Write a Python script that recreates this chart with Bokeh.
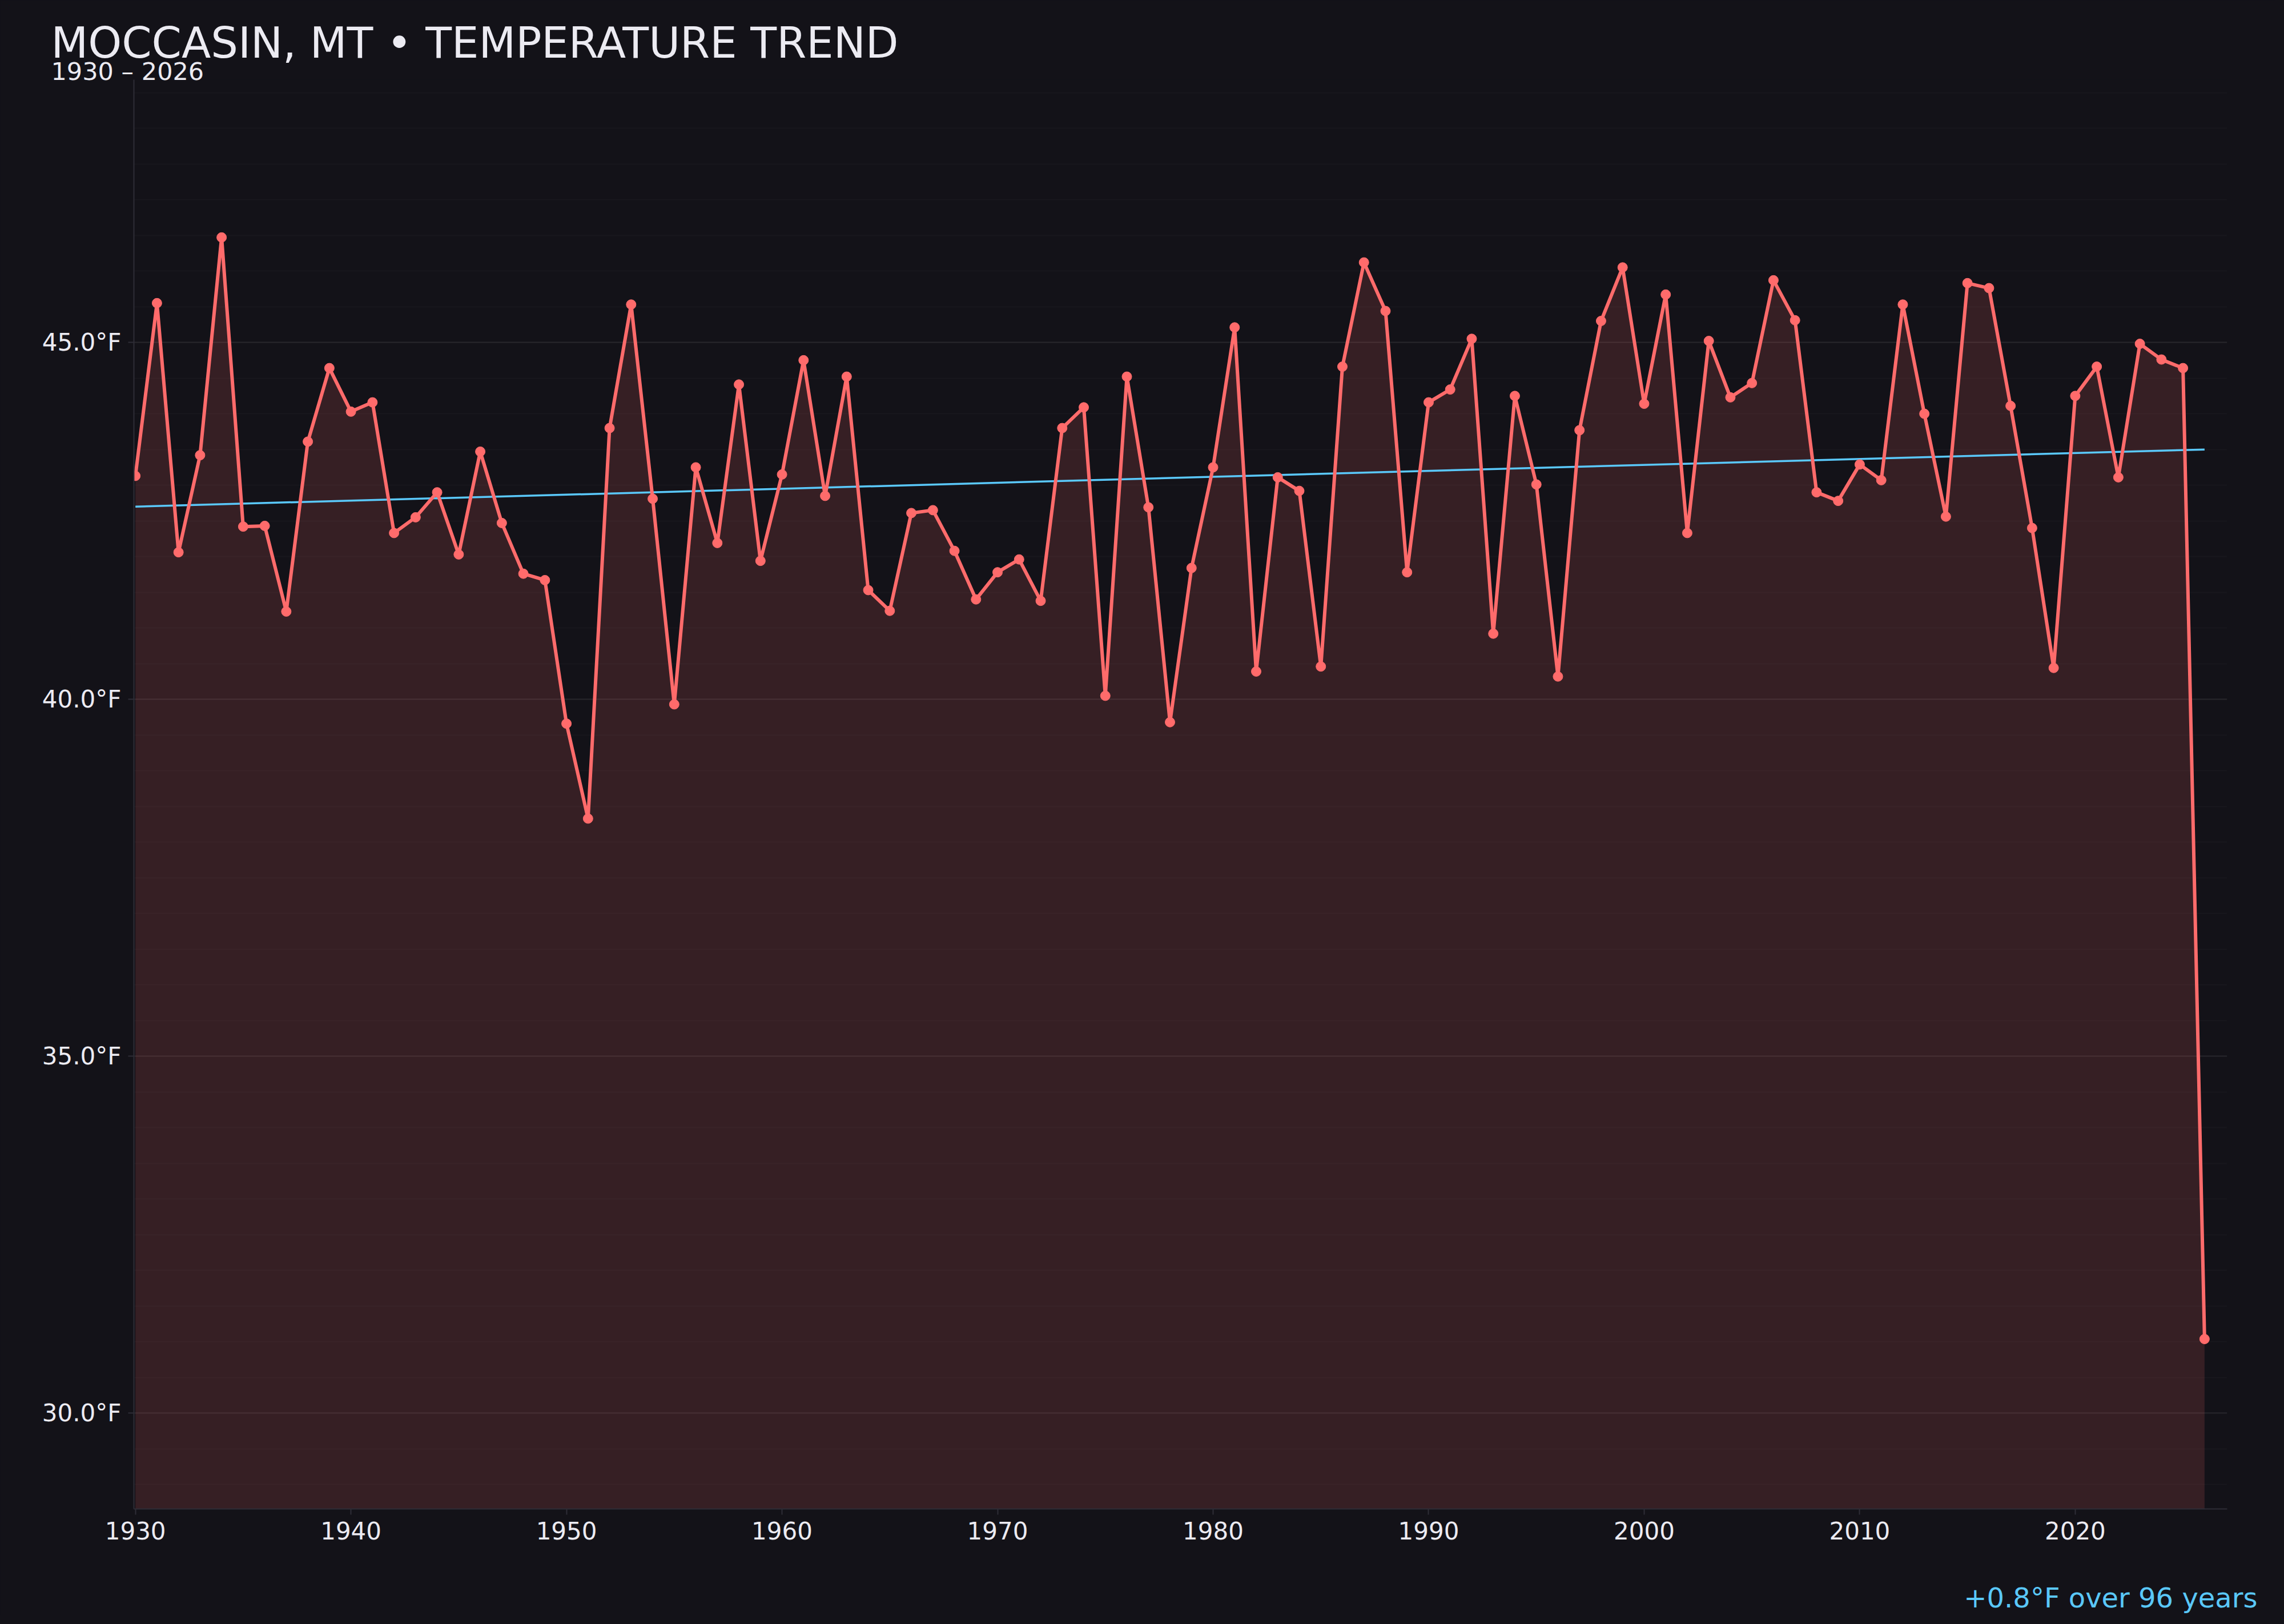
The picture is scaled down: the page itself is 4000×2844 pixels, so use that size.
from bokeh.plotting import figure
from bokeh.models import (Range1d, FixedTicker, PrintfTickFormatter, Title,
                          ColumnDataSource, GlobalInlineStyleSheet)
from bokeh.embed import file_html
from bokeh.resources import INLINE
import numpy as np

# ---------------- data ----------------
years = list(range(1930, 2027))
temps = [
    43.13, 45.55, 42.06, 43.42, 46.47, 42.42, 42.43, 41.23, 43.61, 44.64,  # 1930-1939
    44.03, 44.16, 42.33, 42.55, 42.90, 42.03, 43.47, 42.47, 41.76, 41.67,  # 1940-1949
    39.66, 38.33, 43.80, 45.53, 42.81, 39.93, 43.25, 42.19, 44.41, 41.94,  # 1950-1959
    43.15, 44.75, 42.85, 44.52, 41.53, 41.24, 42.61, 42.65, 42.08, 41.40,  # 1960-1969
    41.78, 41.96, 41.38, 43.80, 44.09, 40.05, 44.52, 42.69, 39.68, 41.84,  # 1970-1979
    43.25, 45.21, 40.39, 43.11, 42.92, 40.46, 44.66, 46.12, 45.44, 41.78,  # 1980-1989
    44.16, 44.34, 45.05, 40.92, 44.25, 43.01, 40.32, 43.77, 45.30, 46.05,  # 1990-1999
    44.14, 45.67, 42.33, 45.02, 44.23, 44.43, 45.87, 45.31, 42.90, 42.78,  # 2000-2009
    43.29, 43.07, 45.53, 44.00, 42.56, 45.83, 45.76, 44.11, 42.40, 40.44,  # 2010-2019
    44.25, 44.66, 43.11, 44.98, 44.76, 44.64, 31.04,                       # 2020-2026
]
trend_years = [1930, 2026]
trend_vals = [42.70, 43.50]
y_ticks = [30, 35, 40, 45]
x_ticks = [1930, 1940, 1950, 1960, 1970, 1980, 1990, 2000, 2010, 2020]
title_text = "MOCCASIN, MT \u2022 TEMPERATURE TREND"
subtitle_text = "1930 \u2013 2026"
note_text = "+0.8\u00b0F over 96 years"

# ---------------- style ----------------
BG = "#131218"
LINE = "#ff6b6b"
TREND = "#5ac8fa"
TEXT = "#ecebf2"
FONT = "DejaVu Sans"

Y0, Y1 = 28.66, 48.68
X0, X1 = 1929.93, 2027.05

p = figure(width=3984, height=2828, output_backend="svg", toolbar_location=None,
           x_range=Range1d(X0, X1), y_range=Range1d(Y0, Y1),
           background_fill_color=BG, border_fill_color=BG,
           min_border_left=234, min_border_right=84,
           min_border_top=139, min_border_bottom=186)
p.title = None
p.outline_line_color = None
p.stylesheets = [GlobalInlineStyleSheet(css="html, body { background-color: #131218; }")]

src = ColumnDataSource(dict(year=years, temp=temps, base=[Y0] * len(years)))

p.varea(x="year", y1="base", y2="temp", source=src, fill_color=LINE, fill_alpha=0.15)
p.line(trend_years, trend_vals, line_color=TREND, line_width=3.5)
p.line(x="year", y="temp", source=src, line_color=LINE, line_width=6)
p.scatter(x="year", y="temp", source=src, size=17, fill_color=LINE, line_color=LINE)

# axes
minor = list(np.arange(28.5, 49.0, 0.5))
p.yaxis.ticker = FixedTicker(ticks=y_ticks, minor_ticks=minor)
p.yaxis.formatter = PrintfTickFormatter(format="%.1f\u00b0F")
p.xaxis.ticker = FixedTicker(ticks=x_ticks)

for ax in (p.xaxis[0], p.yaxis[0]):
    ax.axis_line_color = "#2e2d36"
    ax.axis_line_width = 2
    ax.major_tick_line_color = "#2e2d36"
    ax.major_tick_line_width = 2
    ax.major_tick_in = 0
    ax.major_tick_out = 10
    ax.minor_tick_line_color = None
    ax.major_label_text_font = FONT
    ax.major_label_text_font_size = "42px"
    ax.major_label_text_color = TEXT
    ax.major_label_standoff = 12

p.xgrid.grid_line_color = None
p.ygrid.grid_line_color = "#ffffff"
p.ygrid.grid_line_alpha = 0.07
p.ygrid.grid_line_width = 2
p.ygrid.minor_grid_line_color = "#ffffff"
p.ygrid.minor_grid_line_alpha = 0.025
p.ygrid.minor_grid_line_width = 2

# titles (subtitle first = closest to the plot)
p.add_layout(Title(text=subtitle_text, align="left", offset=-145, standoff=-20,
                   text_font=FONT, text_font_size="43px", text_font_style="normal",
                   text_color=TEXT), "above")
p.add_layout(Title(text=title_text, align="left", offset=-145, standoff=-22,
                   text_font=FONT, text_font_size="75px", text_font_style="normal",
                   text_color=TEXT), "above")
# spacer between the x axis and the note, then the note
p.add_layout(Title(text=" ", text_font_size="1px", standoff=66,
                   text_color=BG), "below")
p.add_layout(Title(text=note_text, align="right", offset=-53, standoff=0,
                   text_font=FONT, text_font_size="48px", text_font_style="normal",
                   text_color=TREND), "below")

open("out.html", "w").write(file_html(p, INLINE))
